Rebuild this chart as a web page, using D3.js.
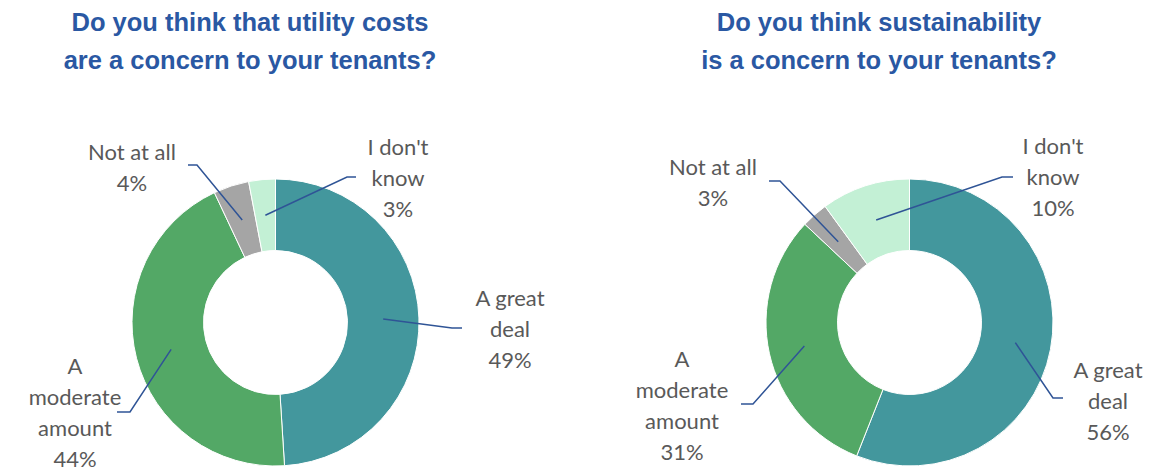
<!DOCTYPE html>
<html>
<head>
<meta charset="utf-8">
<script src="https://cdn.jsdelivr.net/npm/d3@7"></script>
<style>
  body { margin: 0; background: #fff; }
  svg { display: block; }
</style>
</head>
<body>
<div id="chart"></div>
<script>
// answer categories, clockwise from 12 o'clock
const categories = ["A great deal", "A moderate amount", "Not at all", "I don't know"];
const utilityValues = [49, 44, 4, 3];
const sustainValues = [56, 31, 3, 10];
const utilityTitle = ["Do you think that utility costs", "are a concern to your tenants?"];
const sustainTitle = ["Do you think sustainability", "is a concern to your tenants?"];
const utilityLabelLines = [["A great", "deal"], ["A", "moderate", "amount"], ["Not at all"], ["I don't", "know"]];
const sustainLabelLines = [["A great", "deal"], ["A", "moderate", "amount"], ["Not at all"], ["I don't", "know"]];

const width = 1150, height = 467;
const colors = d3.scaleOrdinal()
    .domain(categories)
    .range(["#43979d", "#53a866", "#a5a5a5", "#c3f0d5"]);

// label placement relative to donut centre: text anchor + leader elbow/end
const utilityLayout = [
    { tx: 234.5, ty: -24.5, elbow: [176.5, 5.5], end: [186.5, 5.5] },
    { tx: -200.5, ty: 43.5, elbow: [-145.5, 89.5], end: [-158.5, 89.5] },
    { tx: -143.5, ty: -170.5, elbow: [-78.5, -157.5], end: [-87.5, -157.5] },
    { tx: 122.5, ty: -175.5, elbow: [71.5, -145.5], end: [80.5, -145.5] }
];
const sustainLayout = [
    { tx: 198.5, ty: 47.5, elbow: [143.5, 75.5], end: [153.5, 75.5] },
    { tx: -227.5, ty: 36.5, elbow: [-156.5, 81.5], end: [-168.5, 81.5] },
    { tx: -196.5, ty: -155.5, elbow: [-129.5, -141.5], end: [-140.5, -141.5] },
    { tx: 143.5, ty: -176.5, elbow: [92.5, -145.5], end: [103.5, -145.5] }
];

const svg = d3.select("#chart").append("svg")
    .attr("width", width)
    .attr("height", height);

function drawDonut(values, labelLines, layout, title, cx, cy, titleX) {
    const outerR = 143.5, innerR = 72;
    const g = svg.append("g").attr("transform", `translate(${cx},${cy})`);

    svg.append("text")
        .attr("x", titleX)
        .attr("y", 0)
        .attr("text-anchor", "middle")
        .style("font-family", "Liberation Sans, Arial, sans-serif")
        .style("font-weight", "bold")
        .style("font-size", "25.5px")
        .style("fill", "#2a58a3")
        .selectAll("tspan")
        .data(title)
        .enter()
        .append("tspan")
        .attr("x", titleX)
        .attr("y", (d, i) => 31 + i * 38)
        .text(d => d);

    const pie = d3.pie().sort(null).value(d => d.value);
    const arc = d3.arc().innerRadius(innerR).outerRadius(outerR);
    const data = pie(categories.map((c, i) => ({ cat: c, value: values[i], i: i })));

    g.selectAll("path.slice")
        .data(data)
        .enter()
        .append("path")
        .classed("slice", true)
        .attr("d", arc)
        .attr("fill", d => colors(d.data.cat))
        .attr("stroke", "#fff")
        .attr("stroke-width", 1);

    g.selectAll("polyline.leader")
        .data(data)
        .enter()
        .append("polyline")
        .classed("leader", true)
        .attr("points", d => {
            const l = layout[d.data.i];
            return [arc.centroid(d), l.elbow, l.end].map(p => p.join(",")).join(" ");
        })
        .attr("fill", "none")
        .attr("stroke", "#2f5496")
        .attr("stroke-width", 1.5);

    const labels = g.selectAll("text.label")
        .data(data)
        .enter()
        .append("text")
        .classed("label", true)
        .attr("text-anchor", "middle")
        .style("font-family", "Lato, sans-serif")
        .style("font-size", "22px")
        .style("fill", "#595959");

    labels.each(function (d) {
        const l = layout[d.data.i];
        const lines = labelLines[d.data.i].concat([d.data.value + "%"]);
        d3.select(this).selectAll("tspan")
            .data(lines)
            .enter()
            .append("tspan")
            .attr("x", l.tx)
            .attr("y", (t, k) => l.ty + k * 31 + 8)
            .text(t => t);
    });
}

drawDonut(utilityValues, utilityLabelLines, utilityLayout, utilityTitle, 275.5, 322.5, 250);
drawDonut(sustainValues, sustainLabelLines, sustainLayout, sustainTitle, 909.5, 322.5, 879);
</script>
</body>
</html>
